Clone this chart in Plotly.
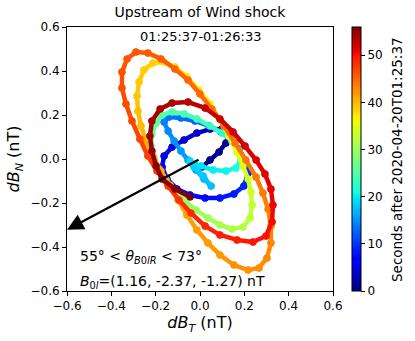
import numpy as np
import plotly.graph_objects as go

# ---------------- data ----------------
t_sec = [0.0, 0.5, 1.0, 1.5, 2.0, 2.5, 3.0, 3.5, 4.0, 4.5,
         5.0, 5.5, 6.0, 6.5, 7.0, 7.5, 8.0, 8.5, 9.0, 9.5,
         10.0, 10.5, 11.0, 11.5, 12.0, 12.5, 13.0, 13.5, 14.0, 14.5,
         15.0, 15.5, 16.0, 16.5, 17.0, 17.5, 18.0, 18.5, 19.0, 19.5,
         20.0, 20.5, 21.0, 21.5, 22.0, 22.5, 23.0, 23.5, 24.0, 24.5,
         25.0, 25.5, 26.0, 26.5, 27.0, 27.5, 28.0, 28.5, 29.0, 29.5,
         30.0, 30.5, 31.0, 31.5, 32.0, 32.5, 33.0, 33.5, 34.0, 34.6,
         35.1, 35.6, 36.0, 36.5, 37.0, 37.4, 37.8, 38.1, 38.4, 38.7,
         39.0, 39.3, 39.6, 39.9, 40.2, 40.5, 40.8, 41.0, 41.2, 41.4,
         41.6, 41.8, 42.0, 42.2, 42.4, 42.6, 42.8, 43.0, 43.2, 43.4,
         43.6, 43.8, 44.0, 44.2, 44.4, 44.6, 44.8, 45.0, 45.2, 45.4,
         45.6, 45.8, 46.0, 46.2, 46.4, 46.6, 46.8, 47.0, 47.3, 47.6,
         47.9, 48.2, 48.5, 48.8, 49.1, 49.4, 49.7, 50.0, 50.3, 50.6,
         50.9, 51.2, 51.5, 51.8, 52.1, 52.4, 52.8, 53.2, 53.6, 54.0,
         54.3, 54.6, 54.9, 55.2, 55.5, 55.7, 56.0]

dBT = [0.009, 0.045, 0.086, 0.117, 0.131, 0.099, 0.045, -0.014, -0.072, -0.126,
       -0.162, -0.171, -0.149, -0.104, -0.045, 0.023, 0.090, 0.153, 0.198, 0.217,
       0.203, 0.176, 0.140, 0.095, 0.041, -0.023, -0.086, -0.140, -0.162, -0.144,
       -0.117, -0.086, -0.054, -0.018, 0.018, 0.050, 0.014, -0.027, -0.045, 0.005,
       0.059, 0.117, 0.162, 0.185, 0.176, 0.144, 0.099, 0.045, -0.014, -0.072,
       -0.126, -0.171, -0.198, -0.217, -0.221, -0.207, -0.185, -0.153, -0.113, -0.068,
       -0.018, 0.036, 0.090, 0.144, 0.194, 0.226, 0.235, 0.230, 0.217, 0.194,
       0.167, 0.131, 0.090, 0.045, -0.005, -0.059, -0.113, -0.162, -0.212, -0.253,
       -0.275, -0.284, -0.280, -0.266, -0.244, -0.212, -0.176, -0.135, -0.099, -0.059,
       -0.014, 0.036, 0.090, 0.153, 0.217, 0.266, 0.302, 0.320, 0.320, 0.307,
       0.284, 0.253, 0.207, 0.158, 0.108, 0.054, 0.000, -0.054, -0.113, -0.176,
       -0.235, -0.289, -0.329, -0.352, -0.352, -0.334, -0.307, -0.271, -0.235, -0.194,
       -0.144, -0.095, -0.041, 0.023, 0.090, 0.167, 0.239, 0.298, 0.325, 0.329,
       0.320, 0.293, 0.253, 0.203, 0.149, 0.090, 0.023, -0.054, -0.126, -0.180,
       -0.217, -0.226, -0.217, -0.198, -0.171, -0.113, -0.045]

dBN = [-0.036, -0.005, 0.032, 0.073, 0.114, 0.136, 0.136, 0.118, 0.086, 0.055,
       0.014, -0.036, -0.091, -0.136, -0.164, -0.177, -0.177, -0.159, -0.123, -0.064,
       -0.005, 0.045, 0.091, 0.123, 0.150, 0.173, 0.186, 0.191, 0.168, 0.127,
       0.082, 0.036, -0.005, -0.050, -0.091, -0.123, -0.077, -0.036, -0.009, -0.032,
       -0.050, -0.055, -0.041, -0.005, 0.041, 0.082, 0.118, 0.150, 0.182, 0.205,
       0.214, 0.200, 0.164, 0.114, 0.059, 0.005, -0.045, -0.095, -0.145, -0.191,
       -0.232, -0.268, -0.300, -0.318, -0.309, -0.268, -0.209, -0.150, -0.091, -0.032,
       0.032, 0.105, 0.177, 0.250, 0.314, 0.373, 0.418, 0.441, 0.436, 0.405,
       0.350, 0.286, 0.218, 0.150, 0.082, 0.014, -0.055, -0.118, -0.186, -0.255,
       -0.323, -0.382, -0.436, -0.482, -0.505, -0.495, -0.450, -0.382, -0.305, -0.227,
       -0.155, -0.082, -0.005, 0.073, 0.150, 0.227, 0.295, 0.359, 0.409, 0.455,
       0.482, 0.486, 0.455, 0.395, 0.323, 0.250, 0.173, 0.091, 0.014, -0.055,
       -0.123, -0.186, -0.245, -0.305, -0.345, -0.368, -0.377, -0.350, -0.286, -0.209,
       -0.136, -0.068, -0.005, 0.059, 0.123, 0.182, 0.232, 0.259, 0.255, 0.227,
       0.173, 0.105, 0.036, -0.032, -0.091, -0.136, -0.173]

T_MAX = 56
cbar_ticks = [0, 10, 20, 30, 40, 50]
axis_ticks = [-0.6, -0.4, -0.2, 0.0, 0.2, 0.4, 0.6]
arrow_tail = [0.0, 0.0]
arrow_tip = [-0.6, -0.322]

title_text = "Upstream of Wind shock"
interval_text = "01:25:37-01:26:33"
angle_text = "55° < <i>θ</i><sub><i>B</i>0<i>lR</i></sub> < 73°"
b0_text = "<i>B</i><sub>0<i>l</i></sub>=(1.16, -2.37, -1.27) nT"
xlabel = "<i>dB</i><sub><i>T</i></sub> (nT)"
ylabel = "<i>dB</i><sub><i>N</i></sub> (nT)"
cbar_label = "Seconds after 2020-04-20T01:25:37"

# ---------------- matplotlib-like jet colormap ----------------
JET = {
    "r": [(0, 0), (0.35, 0), (0.66, 1), (0.89, 1), (1, 0.5)],
    "g": [(0, 0), (0.125, 0), (0.375, 1), (0.64, 1), (0.91, 0), (1, 0)],
    "b": [(0, 0.5), (0.11, 1), (0.34, 1), (0.65, 0), (1, 0)],
}


def jet(f):
    f = min(max(f, 0.0), 1.0)
    out = []
    for k in ("r", "g", "b"):
        xs, vs = zip(*JET[k])
        out.append(float(np.interp(f, xs, vs)))
    return "rgb(%d,%d,%d)" % tuple(int(round(255 * c)) for c in out)


stops = [0, 0.11, 0.125, 0.34, 0.35, 0.375, 0.64, 0.65, 0.66, 0.89, 0.91, 1]
jet_scale = [[s, jet(s)] for s in stops]

FONT = "DejaVu Sans"

fig = go.Figure()

# marker trace carrying the colour bar
fig.add_trace(go.Scatter(
    x=dBT, y=dBN, mode="markers",
    marker=dict(color=t_sec, colorscale=jet_scale, cmin=0, cmax=T_MAX, size=7,
                colorbar=dict(
                    x=1.071, xanchor="left", xref="paper", y=0.5, yanchor="middle",
                    len=1, lenmode="fraction", thickness=9, xpad=0, ypad=0,
                    outlinewidth=1, outlinecolor="black",
                    ticks="outside", ticklen=4, tickwidth=1, tickcolor="black",
                    tickvals=cbar_ticks,
                    tickfont=dict(family=FONT, size=12, color="black"),
                )),
    showlegend=False, hoverinfo="skip"))

# time ordered coloured segments
for i in range(len(t_sec) - 1):
    cmid = jet(((t_sec[i] + t_sec[i + 1]) / 2) / T_MAX)
    fig.add_trace(go.Scatter(
        x=dBT[i:i + 2], y=dBN[i:i + 2], mode="lines+markers",
        line=dict(color=cmid, width=4.5),
        marker=dict(color=[jet(t_sec[i] / T_MAX), jet(t_sec[i + 1] / T_MAX)], size=7),
        showlegend=False, hoverinfo="skip"))

# arrow
fig.add_annotation(x=arrow_tip[0], y=arrow_tip[1], ax=arrow_tail[0], ay=arrow_tail[1],
                   xref="x", yref="y", axref="x", ayref="y", text="",
                   showarrow=True, arrowhead=2, arrowsize=1.5, arrowwidth=2.2,
                   arrowcolor="black")

fig.add_annotation(x=0.0, y=0.555, xref="x", yref="y", text=interval_text,
                   showarrow=False, font=dict(family=FONT, size=13, color="black"))
fig.add_annotation(x=-0.55, y=-0.445, xref="x", yref="y", text=angle_text,
                   xanchor="left", yanchor="middle", showarrow=False,
                   font=dict(family=FONT, size=14, color="black"))
fig.add_annotation(x=-0.55, y=-0.559, xref="x", yref="y", text=b0_text,
                   xanchor="left", yanchor="middle", showarrow=False,
                   font=dict(family=FONT, size=14, color="black"))
fig.add_annotation(x=1.2406, y=0.5, xref="paper", yref="paper", text=cbar_label,
                   textangle=-90, showarrow=False, xanchor="center", yanchor="middle",
                   font=dict(family=FONT, size=13.5, color="black"))

axis_common = dict(
    range=[-0.6, 0.6], tickvals=axis_ticks, tickformat=".1f",
    ticks="outside", ticklen=4, tickwidth=1, tickcolor="black",
    showline=True, linecolor="black", linewidth=1, mirror=True,
    showgrid=False, zeroline=False,
    tickfont=dict(family=FONT, size=12, color="black"),
)

fig.update_layout(
    width=415, height=341,
    margin=dict(l=67, r=82, t=27, b=50, autoexpand=False),
    plot_bgcolor="white", paper_bgcolor="white",
    title=dict(text=title_text, x=0.5, xref="paper", xanchor="center",
               y=1 - 12 / 341, yref="container", yanchor="middle",
               font=dict(family=FONT, size=14, color="black")),
    xaxis=dict(**axis_common, title=dict(text=xlabel, standoff=4,
               font=dict(family=FONT, size=16, color="black"))),
    yaxis=dict(**axis_common, title=dict(text=ylabel, standoff=6,
               font=dict(family=FONT, size=16, color="black"))),
    font=dict(family=FONT, color="black"),
)

fig.write_html("out.html", config={"displayModeBar": False},
               post_script="document.body.style.margin='0';document.body.style.overflow='hidden';")
